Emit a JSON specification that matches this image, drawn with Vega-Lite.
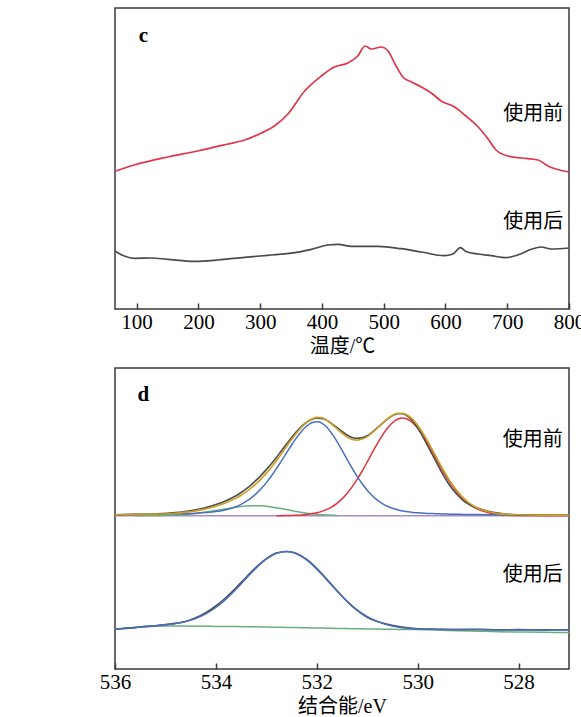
{
  "$schema": "https://vega.github.io/schema/vega-lite/v6.json",
  "padding": {"left": 98, "top": 7, "right": 0, "bottom": 0},
  "background": "white",
  "spacing": 59,
  "bounds": "flush",
  "config": {
    "font": "Liberation Serif",
    "view": {"stroke": "#3a3a3a", "strokeWidth": 1.5},
    "axis": {
      "labelFont": "Liberation Serif",
      "labelFontSize": 21,
      "labelColor": "black",
      "labelFlush": false,
      "labelOverlap": false,
      "titleFont": "Liberation Serif, Noto Sans CJK SC",
      "titleFontSize": 20,
      "titleFontWeight": "normal",
      "titleColor": "black",
      "grid": false,
      "domain": false,
      "tickColor": "#3a3a3a",
      "tickWidth": 1.5,
      "tickSize": -6,
      "labelPadding": 8,
      "titlePadding": 4
    }
  },
  "datasets": {
    "tpd": [
      {"s": "使用前", "T": 65, "v": 137.7}, {"s": "使用前", "T": 96, "v": 144}, {"s": "使用前", "T": 150, "v": 152},
      {"s": "使用前", "T": 199, "v": 158}, {"s": "使用前", "T": 248, "v": 165}, {"s": "使用前", "T": 275, "v": 169},
      {"s": "使用前", "T": 302, "v": 176}, {"s": "使用前", "T": 323, "v": 183}, {"s": "使用前", "T": 345, "v": 195},
      {"s": "使用前", "T": 372, "v": 218}, {"s": "使用前", "T": 399, "v": 233}, {"s": "使用前", "T": 420, "v": 242},
      {"s": "使用前", "T": 442, "v": 246}, {"s": "使用前", "T": 458, "v": 253}, {"s": "使用前", "T": 470, "v": 263},
      {"s": "使用前", "T": 480, "v": 260}, {"s": "使用前", "T": 496, "v": 262}, {"s": "使用前", "T": 507, "v": 258},
      {"s": "使用前", "T": 520, "v": 243}, {"s": "使用前", "T": 531, "v": 232}, {"s": "使用前", "T": 545, "v": 227},
      {"s": "使用前", "T": 561, "v": 222}, {"s": "使用前", "T": 577, "v": 216}, {"s": "使用前", "T": 593, "v": 208},
      {"s": "使用前", "T": 615, "v": 202}, {"s": "使用前", "T": 631, "v": 194}, {"s": "使用前", "T": 653, "v": 182},
      {"s": "使用前", "T": 669, "v": 170}, {"s": "使用前", "T": 682, "v": 159}, {"s": "使用前", "T": 701, "v": 153},
      {"s": "使用前", "T": 723, "v": 151}, {"s": "使用前", "T": 750, "v": 149}, {"s": "使用前", "T": 766, "v": 143},
      {"s": "使用前", "T": 800, "v": 137},
      {"s": "使用后", "T": 65, "v": 57.7}, {"s": "使用后", "T": 80, "v": 53}, {"s": "使用后", "T": 96, "v": 50.7},
      {"s": "使用后", "T": 123, "v": 51}, {"s": "使用后", "T": 150, "v": 49.7}, {"s": "使用后", "T": 194, "v": 47.7},
      {"s": "使用后", "T": 231, "v": 49}, {"s": "使用后", "T": 275, "v": 51.7}, {"s": "使用后", "T": 312, "v": 53.7},
      {"s": "使用后", "T": 356, "v": 56.3}, {"s": "使用后", "T": 383, "v": 59.7}, {"s": "使用后", "T": 410, "v": 64},
      {"s": "使用后", "T": 426, "v": 64.7}, {"s": "使用后", "T": 448, "v": 62.7}, {"s": "使用后", "T": 491, "v": 62.7},
      {"s": "使用后", "T": 528, "v": 60.3}, {"s": "使用后", "T": 561, "v": 57}, {"s": "使用后", "T": 598, "v": 53.3},
      {"s": "使用后", "T": 612, "v": 55}, {"s": "使用后", "T": 624, "v": 61.3}, {"s": "使用后", "T": 634, "v": 57.3},
      {"s": "使用后", "T": 653, "v": 55}, {"s": "使用后", "T": 674, "v": 53.3}, {"s": "使用后", "T": 698, "v": 51.3},
      {"s": "使用后", "T": 717, "v": 54}, {"s": "使用后", "T": 739, "v": 59.7}, {"s": "使用后", "T": 755, "v": 62},
      {"s": "使用后", "T": 771, "v": 60}, {"s": "使用后", "T": 800, "v": 61}
    ],
    "up": [
      {"E": 536.0, "data": 154.2, "fit": 154.2, "blue": 154.2, "base": 153.3},
      {"E": 535.6, "data": 154.6, "fit": 154.4, "blue": 154.4, "green": 153.3, "base": 153.3},
      {"E": 535.2, "data": 155.2, "fit": 154.9, "blue": 154.7, "green": 153.5, "base": 153.3},
      {"E": 534.8, "data": 156.5, "fit": 155.8, "blue": 155.1, "green": 154.0, "base": 153.3},
      {"E": 534.4, "data": 159.3, "fit": 158.1, "blue": 155.8, "green": 155.6, "base": 153.3},
      {"E": 534.2, "data": 161.6, "fit": 160.1, "blue": 156.5, "green": 156.9, "base": 153.3},
      {"E": 534.0, "data": 164.5, "fit": 162.7, "blue": 157.5, "green": 158.5, "base": 153.3},
      {"E": 533.8, "data": 168.3, "fit": 166.2, "blue": 159.3, "green": 160.2, "base": 153.3},
      {"E": 533.6, "data": 173.3, "fit": 170.9, "blue": 162.4, "green": 161.8, "base": 153.3},
      {"E": 533.5, "data": 176.5, "fit": 173.8, "blue": 164.7, "green": 162.4, "base": 153.3},
      {"E": 533.4, "data": 180.1, "fit": 177.2, "blue": 167.6, "green": 162.9, "base": 153.3},
      {"E": 533.3, "data": 184.2, "fit": 181.0, "blue": 171.1, "green": 163.2, "base": 153.3},
      {"E": 533.2, "data": 188.8, "fit": 185.4, "blue": 175.4, "green": 163.3, "base": 153.3},
      {"E": 533.1, "data": 193.9, "fit": 190.4, "blue": 180.5, "green": 163.2, "base": 153.3},
      {"E": 533.0, "data": 199.5, "fit": 195.9, "blue": 186.4, "green": 162.8, "base": 153.3},
      {"E": 532.9, "data": 205.3, "fit": 201.8, "blue": 193.0, "green": 162.1, "base": 153.3},
      {"E": 532.8, "data": 211.6, "fit": 208.3, "blue": 200.3, "green": 161.3, "red": 153.3, "base": 153.3},
      {"E": 532.7, "data": 218.3, "fit": 215.3, "blue": 208.2, "green": 160.4, "red": 153.3, "base": 153.3},
      {"E": 532.6, "data": 224.9, "fit": 222.4, "blue": 216.1, "green": 159.4, "red": 153.5, "base": 153.3},
      {"E": 532.5, "data": 231.5, "fit": 229.4, "blue": 224.0, "green": 158.4, "red": 153.6, "base": 153.3},
      {"E": 532.4, "data": 237.5, "fit": 236.0, "blue": 231.4, "green": 157.4, "red": 153.8, "base": 153.3},
      {"E": 532.3, "data": 242.7, "fit": 241.7, "blue": 237.8, "green": 156.5, "red": 154.0, "base": 153.3},
      {"E": 532.2, "data": 246.9, "fit": 246.7, "blue": 243.0, "green": 155.8, "red": 154.5, "base": 153.3},
      {"E": 532.1, "data": 249.6, "fit": 250.0, "blue": 246.2, "green": 155.2, "red": 155.2, "base": 153.3},
      {"E": 532.0, "data": 250.9, "fit": 251.6, "blue": 247.3, "green": 154.7, "red": 156.2, "base": 153.3},
      {"E": 531.9, "data": 250.6, "fit": 251.2, "blue": 245.9, "green": 154.3, "red": 157.6, "base": 153.3},
      {"E": 531.8, "data": 248.6, "fit": 248.7, "blue": 241.7, "green": 154.0, "red": 159.6, "base": 153.3},
      {"E": 531.7, "data": 245.2, "fit": 244.7, "blue": 235.4, "green": 153.7, "red": 162.2, "base": 153.3},
      {"E": 531.6, "data": 241.5, "fit": 240.3, "blue": 227.6, "green": 153.5, "red": 165.7, "base": 153.3},
      {"E": 531.5, "data": 237.6, "fit": 235.8, "blue": 218.8, "red": 170.1, "base": 153.3},
      {"E": 531.4, "data": 234.0, "fit": 232.1, "blue": 209.7, "red": 175.6, "base": 153.3},
      {"E": 531.3, "data": 231.6, "fit": 229.6, "blue": 200.8, "red": 182.1, "base": 153.3},
      {"E": 531.2, "data": 230.7, "fit": 228.9, "blue": 192.6, "red": 189.6, "base": 153.3},
      {"E": 531.1, "data": 231.2, "fit": 229.9, "blue": 185.2, "red": 198.0, "base": 153.3},
      {"E": 531.0, "data": 233.3, "fit": 232.4, "blue": 178.7, "red": 207.0, "base": 153.3},
      {"E": 530.9, "data": 236.9, "fit": 236.3, "blue": 173.3, "red": 216.3, "base": 153.3},
      {"E": 530.8, "data": 241.1, "fit": 240.9, "blue": 168.9, "red": 225.3, "base": 153.3},
      {"E": 530.7, "data": 245.7, "fit": 245.8, "blue": 165.4, "red": 233.7, "base": 153.3},
      {"E": 530.6, "data": 249.9, "fit": 250.2, "blue": 162.7, "red": 240.8, "base": 153.3},
      {"E": 530.5, "data": 253.4, "fit": 253.7, "blue": 160.7, "red": 246.3, "base": 153.3},
      {"E": 530.4, "data": 255.3, "fit": 255.7, "blue": 159.2, "red": 249.8, "base": 153.3},
      {"E": 530.3, "data": 255.3, "fit": 255.7, "blue": 158.0, "red": 251.0, "base": 153.3},
      {"E": 530.2, "data": 252.8, "fit": 253.7, "blue": 157.2, "red": 249.8, "base": 153.3},
      {"E": 530.1, "data": 247.9, "fit": 249.6, "blue": 156.6, "red": 246.3, "base": 153.3},
      {"E": 530.0, "data": 241.1, "fit": 243.7, "blue": 156.2, "red": 240.8, "base": 153.3},
      {"E": 529.9, "data": 232.6, "fit": 236.3, "blue": 155.9, "red": 233.7, "base": 153.3},
      {"E": 529.8, "data": 223.1, "fit": 227.6, "blue": 155.6, "red": 225.3, "base": 153.3},
      {"E": 529.7, "data": 213.5, "fit": 218.4, "blue": 155.4, "red": 216.3, "base": 153.3},
      {"E": 529.6, "data": 203.9, "fit": 208.9, "blue": 155.2, "red": 207.0, "base": 153.3},
      {"E": 529.5, "data": 194.6, "fit": 199.8, "blue": 155.0, "red": 198.0, "base": 153.3},
      {"E": 529.4, "data": 186.3, "fit": 191.2, "blue": 154.9, "red": 189.6, "base": 153.3},
      {"E": 529.3, "data": 179.2, "fit": 183.6, "blue": 154.8, "red": 182.1, "base": 153.3},
      {"E": 529.2, "data": 173.5, "fit": 177.0, "blue": 154.7, "red": 175.6, "base": 153.3},
      {"E": 529.1, "data": 168.7, "fit": 171.4, "blue": 154.6, "red": 170.1, "base": 153.3},
      {"E": 529.0, "data": 165.1, "fit": 166.9, "blue": 154.5, "red": 165.7, "base": 153.3},
      {"E": 528.9, "data": 162.6, "fit": 163.4, "blue": 154.45, "red": 162.2, "base": 153.3},
      {"E": 528.8, "data": 160.8, "fit": 160.7, "blue": 154.4, "red": 159.6, "base": 153.3},
      {"E": 528.6, "data": 157.8, "fit": 157.2, "blue": 154.25, "red": 156.2, "base": 153.3},
      {"E": 528.4, "data": 155.9, "fit": 155.4, "blue": 154.15, "red": 154.5, "base": 153.3},
      {"E": 528.2, "data": 154.7, "fit": 154.6, "blue": 154.1, "red": 153.75, "base": 153.3},
      {"E": 528.0, "data": 154.1, "fit": 154.2, "blue": 154.0, "red": 153.45, "base": 153.3},
      {"E": 527.6, "data": 154.0, "fit": 153.9, "blue": 153.9, "red": 153.3, "base": 153.3},
      {"E": 527.2, "data": 153.7, "fit": 153.85, "blue": 153.85, "red": 153.3, "base": 153.3},
      {"E": 527.0, "data": 153.9, "fit": 153.8, "blue": 153.8, "red": 153.3, "base": 153.3}
    ],
    "lo": [
      {"E": 536.0, "data2": 39.8, "blue2": 39.8, "green2": 39.8},
      {"E": 535.8, "data2": 40.6, "blue2": 40.8, "green2": 40.7},
      {"E": 535.6, "data2": 41.4, "blue2": 41.6, "green2": 41.5},
      {"E": 535.4, "data2": 42.6, "blue2": 42.5, "green2": 42.2},
      {"E": 535.2, "data2": 43.2, "blue2": 43.3, "green2": 42.7},
      {"E": 535.0, "data2": 44.5, "blue2": 44.3, "green2": 43.0},
      {"E": 534.8, "data2": 45.6, "blue2": 45.4, "green2": 42.9},
      {"E": 534.6, "data2": 47.6, "blue2": 47.4, "green2": 42.9},
      {"E": 534.4, "data2": 51.2, "blue2": 50.5, "green2": 42.8},
      {"E": 534.2, "data2": 56.3, "blue2": 55.1, "green2": 42.7},
      {"E": 534.0, "data2": 63.0, "blue2": 61.5, "green2": 42.6},
      {"E": 533.8, "data2": 71.5, "blue2": 69.9, "green2": 42.5},
      {"E": 533.6, "data2": 81.2, "blue2": 79.8, "green2": 42.4},
      {"E": 533.4, "data2": 91.8, "blue2": 90.6, "green2": 42.3},
      {"E": 533.2, "data2": 101.8, "blue2": 101.1, "green2": 42.2},
      {"E": 533.0, "data2": 110.3, "blue2": 109.9, "green2": 42.0},
      {"E": 532.8, "data2": 115.9, "blue2": 115.7, "green2": 41.8},
      {"E": 532.6, "data2": 117.5, "blue2": 117.6, "green2": 41.6},
      {"E": 532.4, "data2": 115.5, "blue2": 115.3, "green2": 41.4},
      {"E": 532.2, "data2": 109.5, "blue2": 109.1, "green2": 41.2},
      {"E": 532.0, "data2": 100.5, "blue2": 99.9, "green2": 41.0},
      {"E": 531.8, "data2": 89.8, "blue2": 89.1, "green2": 40.8},
      {"E": 531.6, "data2": 78.4, "blue2": 78.0, "green2": 40.6},
      {"E": 531.4, "data2": 67.6, "blue2": 67.8, "green2": 40.4},
      {"E": 531.2, "data2": 58.6, "blue2": 59.1, "green2": 40.2},
      {"E": 531.0, "data2": 51.8, "blue2": 52.4, "green2": 40.0},
      {"E": 530.8, "data2": 47.4, "blue2": 47.6, "green2": 39.9},
      {"E": 530.6, "data2": 44.6, "blue2": 44.3, "green2": 39.8},
      {"E": 530.4, "data2": 42.6, "blue2": 42.1, "green2": 39.6},
      {"E": 530.2, "data2": 41.2, "blue2": 40.8, "green2": 39.5},
      {"E": 530.0, "data2": 40.3, "blue2": 40.0, "green2": 39.4},
      {"E": 529.6, "data2": 39.8, "blue2": 39.6, "green2": 38.9},
      {"E": 529.2, "data2": 39.5, "blue2": 39.4, "green2": 38.3},
      {"E": 528.8, "data2": 39.7, "blue2": 39.2, "green2": 37.8},
      {"E": 528.4, "data2": 39.2, "blue2": 39.1, "green2": 37.3},
      {"E": 528.0, "data2": 39.4, "blue2": 39.0, "green2": 37.0},
      {"E": 527.5, "data2": 39.1, "blue2": 39.0, "green2": 36.7},
      {"E": 527.0, "data2": 39.3, "blue2": 39.0, "green2": 36.5}
    ]
  },
  "vconcat": [
    {
      "width": 454,
      "height": 301,
      "encoding": {
        "x": {
          "field": "T",
          "type": "quantitative",
          "scale": {"domain": [65, 800], "nice": false, "zero": false},
          "axis": {"values": [100, 200, 300, 400, 500, 600, 700, 800], "title": "温度/℃"}
        }
      },
      "layer": [
        {
          "data": {"name": "tpd"},
          "mark": {"type": "line", "interpolate": "monotone", "strokeWidth": 1.7},
          "encoding": {
            "y": {"field": "v", "type": "quantitative", "scale": {"domain": [0, 301], "nice": false}, "axis": null},
            "color": {"field": "s", "type": "nominal", "scale": {"domain": ["使用前", "使用后"], "range": ["#e0364a", "#4a4a4a"]}, "legend": null}
          }
        },
        {
          "data": {"values": [{"t": "使用前", "T": 742, "v": 195}, {"t": "使用后", "T": 742, "v": 87}]},
          "mark": {"type": "text", "font": "Noto Sans CJK SC", "fontSize": 20, "color": "black", "baseline": "middle", "align": "center"},
          "encoding": {
            "y": {"field": "v", "type": "quantitative", "scale": {"domain": [0, 301], "nice": false}, "axis": null},
            "text": {"field": "t"}
          }
        },
        {
          "data": {"values": [{"t": "c", "T": 111, "v": 273}]},
          "mark": {"type": "text", "font": "Liberation Serif", "fontSize": 21, "fontWeight": "bold", "color": "black", "baseline": "middle", "align": "center"},
          "encoding": {
            "y": {"field": "v", "type": "quantitative", "scale": {"domain": [0, 301], "nice": false}, "axis": null},
            "text": {"field": "t"}
          }
        }
      ]
    },
    {
      "width": 454,
      "height": 301,
      "encoding": {
        "x": {
          "field": "E",
          "type": "quantitative",
          "scale": {"domain": [527, 536], "reverse": true, "nice": false, "zero": false},
          "axis": {"values": [536, 534, 532, 530, 528], "title": "结合能/eV"}
        }
      },
      "layer": [
        {"data": {"name": "up"}, "mark": {"type": "line", "interpolate": "monotone", "strokeWidth": 1.5, "color": "#a98bc8"},
         "encoding": {"y": {"field": "base", "type": "quantitative", "scale": {"domain": [0, 301], "nice": false}, "axis": null}}},
        {"data": {"name": "up"}, "mark": {"type": "line", "interpolate": "monotone", "strokeWidth": 1.5, "color": "#6aae7c"},
         "encoding": {"y": {"field": "green", "type": "quantitative", "axis": null}}},
        {"data": {"name": "up"}, "mark": {"type": "line", "interpolate": "monotone", "strokeWidth": 1.5, "color": "#e2333f"},
         "encoding": {"y": {"field": "red", "type": "quantitative", "axis": null}}},
        {"data": {"name": "up"}, "mark": {"type": "line", "interpolate": "monotone", "strokeWidth": 1.5, "color": "#4870c0"},
         "encoding": {"y": {"field": "blue", "type": "quantitative", "axis": null}}},
        {"data": {"name": "up"}, "mark": {"type": "line", "interpolate": "monotone", "strokeWidth": 1.6, "color": "#4d4d4d"},
         "encoding": {"y": {"field": "data", "type": "quantitative", "axis": null}}},
        {"data": {"name": "up"}, "mark": {"type": "line", "interpolate": "monotone", "strokeWidth": 1.6, "color": "#cc9f24"},
         "encoding": {"y": {"field": "fit", "type": "quantitative", "axis": null}}},
        {"data": {"name": "lo"}, "mark": {"type": "line", "interpolate": "monotone", "strokeWidth": 1.5, "color": "#6aae7c"},
         "encoding": {"y": {"field": "green2", "type": "quantitative", "axis": null}}},
        {"data": {"name": "lo"}, "mark": {"type": "line", "interpolate": "monotone", "strokeWidth": 1.6, "color": "#4d4d4d"},
         "encoding": {"y": {"field": "data2", "type": "quantitative", "axis": null}}},
        {"data": {"name": "lo"}, "mark": {"type": "line", "interpolate": "monotone", "strokeWidth": 1.5, "color": "#4870c0"},
         "encoding": {"y": {"field": "blue2", "type": "quantitative", "axis": null}}},
        {
          "data": {"values": [{"t": "使用前", "E": 527.72, "v": 229}, {"t": "使用后", "E": 527.72, "v": 94}]},
          "mark": {"type": "text", "font": "Noto Sans CJK SC", "fontSize": 20, "color": "black", "baseline": "middle", "align": "center"},
          "encoding": {
            "y": {"field": "v", "type": "quantitative", "axis": null},
            "text": {"field": "t"}
          }
        },
        {
          "data": {"values": [{"t": "d", "E": 535.44, "v": 274}]},
          "mark": {"type": "text", "font": "Liberation Serif", "fontSize": 21, "fontWeight": "bold", "color": "black", "baseline": "middle", "align": "center"},
          "encoding": {
            "y": {"field": "v", "type": "quantitative", "axis": null},
            "text": {"field": "t"}
          }
        }
      ]
    }
  ]
}
